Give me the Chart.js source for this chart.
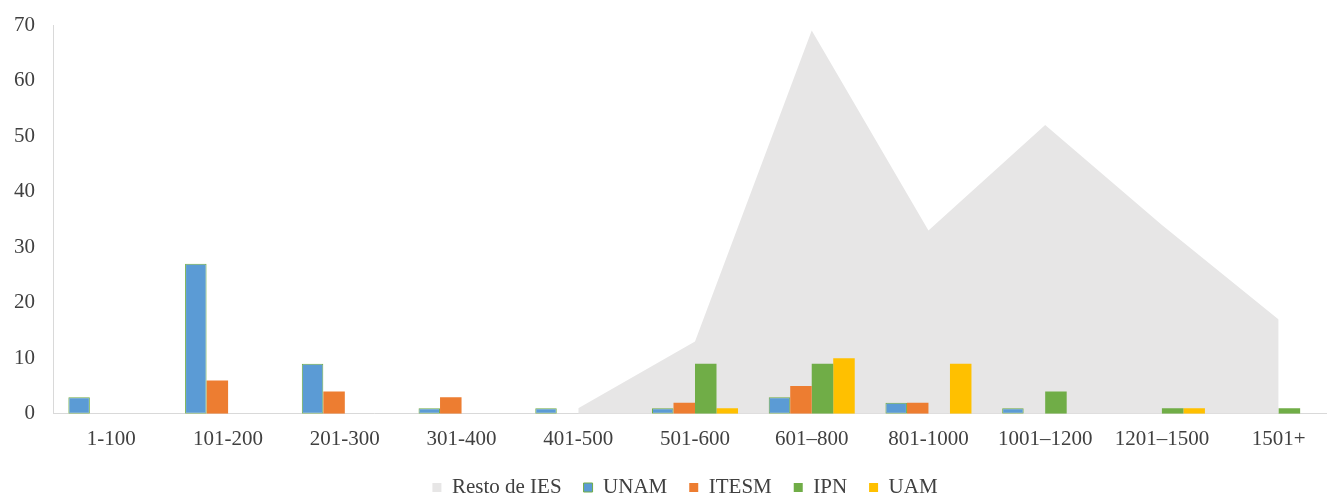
<!DOCTYPE html>
<html>
<head>
<meta charset="utf-8">
<script src="https://cdn.jsdelivr.net/npm/chart.js@4.4.1/dist/chart.umd.min.js"></script>
<style>
  html, body { margin: 0; padding: 0; background: #ffffff; overflow: hidden; }
  #wrap { position: relative; width: 1327px; height: 496px; overflow: hidden; background: #ffffff; }
  #c { position: absolute; left: 0; top: 0; }
</style>
</head>
<body>
<div id="wrap"><canvas id="c" width="1350" height="518"></canvas></div>
<script>
const categories = ['1-100', '101-200', '201-300', '301-400', '401-500', '501-600', '601–800', '801-1000', '1001–1200', '1201–1500', '1501+'];
const restoDeIES = [null, null, null, null, 1, 13, 69, 33, 52, 34, 17];
const unam  = [3, 27, 9, 1, 1, 1, 3, 2, 1, 0, 0];
const itesm = [0, 6, 4, 3, 0, 2, 5, 2, 0, 0, 0];
const ipn   = [0, 0, 0, 0, 0, 9, 9, 0, 4, 1, 1];
const uam   = [0, 0, 0, 0, 0, 1, 10, 9, 0, 1, 0];
const yTicks = [0, 10, 20, 30, 40, 50, 60, 70];

const FONT = "'Liberation Serif', 'Times New Roman', serif";
const TEXT = '#404040';

// shift the legend box to match the reference placement
const legendShift = {
  id: 'legendShift',
  afterLayout(chart) {
    const lg = chart.legend;
    if (!lg) return;
    const dx = 16.5, dy = -10;
    lg.left += dx; lg.right += dx;
    lg.top += dy; lg.bottom += dy;
  }
};

new Chart(document.getElementById('c'), {
  type: 'bar',
  data: {
    labels: categories,
    datasets: [
      {
        type: 'line', label: 'Resto de IES', data: restoDeIES,
        backgroundColor: '#e7e6e6', borderColor: '#e7e6e6', borderWidth: 0,
        fill: 'origin', pointRadius: 0, tension: 0, order: 10
      },
      { label: 'UNAM', data: unam, backgroundColor: '#5b9bd5', borderColor: '#70ad47', borderWidth: 1, order: 1 },
      { label: 'ITESM', data: itesm, backgroundColor: '#ed7d31', borderColor: '#ed7d31', borderWidth: 0, order: 1 },
      { label: 'IPN', data: ipn, backgroundColor: '#70ad47', borderColor: '#70ad47', borderWidth: 0, order: 1 },
      { label: 'UAM', data: uam, backgroundColor: '#ffc000', borderColor: '#ffc000', borderWidth: 0, order: 1 }
    ]
  },
  plugins: [legendShift],
  options: {
    responsive: false,
    animation: false,
    datasets: { bar: { barPercentage: 1, categoryPercentage: 0.737, borderSkipped: false } },
    layout: { autoPadding: false, padding: { left: 0, right: 13, top: 25, bottom: 0 } },
    plugins: {
      tooltip: { enabled: false },
      legend: {
        position: 'bottom',
        labels: {
          font: { family: FONT, size: 21 },
          color: TEXT,
          boxWidth: 9, boxHeight: 9,
          padding: 22,
          sort: (a, b) => a.datasetIndex - b.datasetIndex
        }
      }
    },
    scales: {
      x: {
        grid: { display: false, drawTicks: false },
        border: { display: true, color: '#d9d9d9', width: 1 },
        ticks: { font: { family: FONT, size: 21 }, color: TEXT, padding: 13, maxRotation: 0, autoSkip: false }
      },
      y: {
        min: 0, max: 70,
        afterBuildTicks: (s) => { s.ticks = yTicks.map(v => ({ value: v })); },
        afterFit: (s) => { s.width = 53; s.paddingTop = 0; s.paddingBottom = 0; },
        grid: { display: false, drawTicks: false },
        border: { display: true, color: '#d9d9d9', width: 1 },
        ticks: { font: { family: FONT, size: 21 }, color: TEXT, padding: 18 }
      }
    }
  }
});
</script>
</body>
</html>
